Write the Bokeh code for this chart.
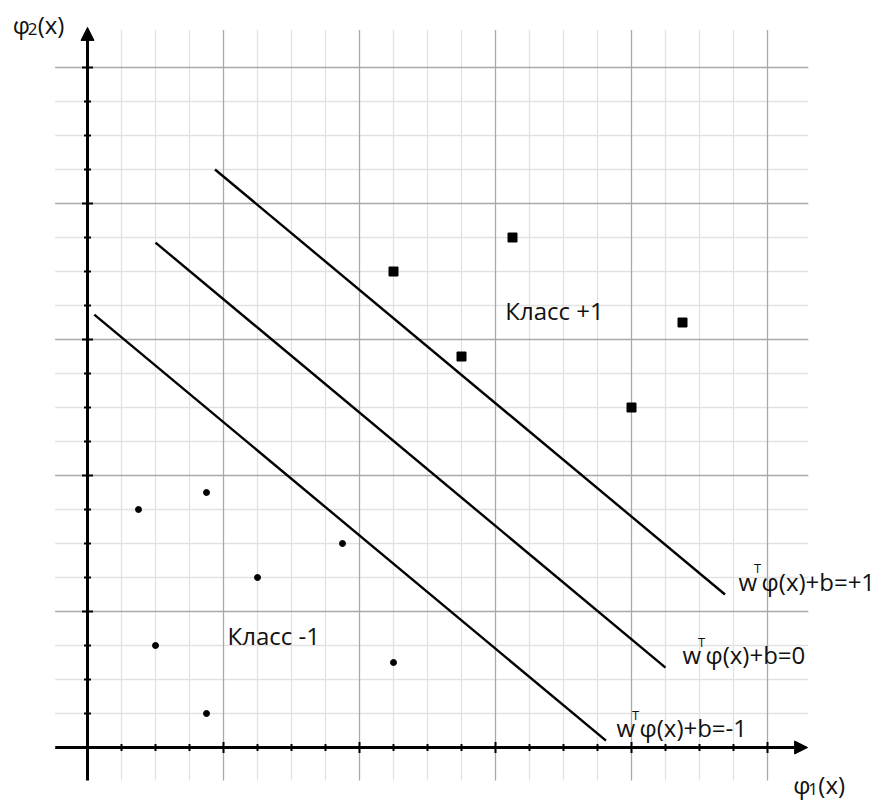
import numpy as np
from bokeh.plotting import figure
from bokeh.models import Range1d, Arrow, NormalHead, Label
from bokeh.embed import file_html
from bokeh.resources import INLINE

# ---- data ----
class_pos_x = [9, 12.5, 11, 16, 17.5]
class_pos_y = [14, 15, 11.5, 10, 12.5]
class_neg_x = [1.5, 3.5, 7.5, 5, 2, 9, 3.5]
class_neg_y = [7, 7.5, 6, 5, 3, 2.5, 1]

line_rhs = ["+1", "0", "-1"]
line_x0 = [3.75, 2.0, 0.2]
line_y0 = [17.0, 14.85, 12.73]
line_x1 = [18.75, 17.0, 15.25]
line_y1 = [4.5, 2.35, 0.2]
line_label_x = [19.15, 17.5, 15.56]
line_label_y = [4.65, 2.5, 0.35]

class_labels = ["Класс +1", "Класс -1"]
class_label_x = [12.29, 4.12]
class_label_y = [12.62, 3.06]

# ---- layout constants (pixels) ----
W, H = 884, 800
OX, OY, U = 87, 747, 34.0
FONT = "Open Sans"
FS = 24
BASE_DY = 8

p = figure(width=W, height=H, output_backend="svg", toolbar_location=None,
           x_range=Range1d(-OX / U, (W - OX) / U),
           y_range=Range1d((OY - H) / U, OY / U),
           min_border=0, x_axis_location=None, y_axis_location=None)
p.outline_line_color = None
p.xgrid.visible = False
p.ygrid.visible = False

# grid
gx0, gx1, gy0, gy1 = -0.95, 21.2, -0.97, 21.1
pos = np.arange(1, 21)
minor = pos[pos % 4 != 0]
major = pos[pos % 4 == 0]
for vals, col in ((minor, "#e2e2e2"), (major, "#a9a9a9")):
    p.segment(x0=vals, y0=gy0, x1=vals, y1=gy1, line_color=col, line_width=1.3)
    p.segment(x0=gx0, y0=vals, x1=gx1, y1=vals, line_color=col, line_width=1.3)

# axes with arrows
tip = 21.18
p.add_layout(Arrow(end=NormalHead(size=13, fill_color="black", line_color="black", line_width=1),
                   x_start=gx0, y_start=0, x_end=tip, y_end=0, line_width=3, line_color="black"))
p.add_layout(Arrow(end=NormalHead(size=13, fill_color="black", line_color="black", line_width=1),
                   x_start=0, y_start=gy0, x_end=0, y_end=tip, line_width=3, line_color="black"))

# ticks
for vals, half in ((minor, 3.5 / U), (major, 5.5 / U)):
    p.segment(x0=vals, y0=-half, x1=vals, y1=half, line_color="black", line_width=2)
    p.segment(x0=-half, y0=vals, x1=half, y1=vals, line_color="black", line_width=2)

# separating lines
p.segment(x0=line_x0, y0=line_y0, x1=line_x1, y1=line_y1, line_color="black", line_width=2.4)

# points
p.scatter(class_pos_x, class_pos_y, marker="square", size=9, fill_color="black", line_color="black")
p.scatter(class_neg_x, class_neg_y, marker="circle", size=6, fill_color="black", line_color="black")

def lab(x, y, t, size=FS, dx=0, dy=0):
    p.add_layout(Label(x=x, y=y, text=t, x_offset=dx, y_offset=dy + BASE_DY,
                       text_font=FONT, text_font_size=f"{size}px", text_color="#111111",
                       text_baseline="alphabetic", text_align="left"))

for t, x, y in zip(class_labels, class_label_x, class_label_y):
    lab(x, y, t)

for r, x, y in zip(line_rhs, line_label_x, line_label_y):
    lab(x, y, "w")
    lab(x, y, "T", size=13, dx=15.5, dy=13)
    lab(x, y, "φ(x)+b=" + r, dx=23)

# axis titles
lab(-2.2, 21.03, "φ")
lab(-2.2, 21.03, "2", size=17, dx=15, dy=-5)
lab(-2.2, 21.03, "(x)", dx=25)
lab(20.76, -1.32, "φ")
lab(20.76, -1.32, "1", size=17, dx=15, dy=-5)
lab(20.76, -1.32, "(x)", dx=25)

open("out.html", "w").write(file_html(p, INLINE))
